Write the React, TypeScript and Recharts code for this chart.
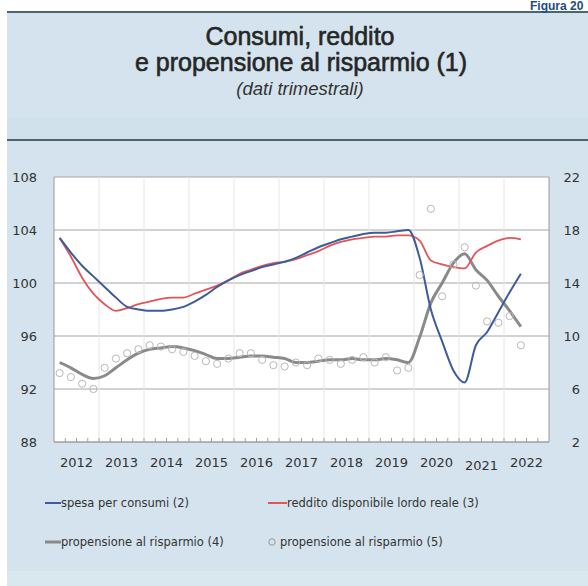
import React from 'react';
import { LineChart, Line, XAxis, YAxis, CartesianGrid, ReferenceLine } from 'recharts';

// quarterly data, 2012 T1 - 2022 T2
const years = [2012, 2013, 2014, 2015, 2016, 2017, 2018, 2019, 2020, 2021, 2022];

// spesa per consumi (index, left axis)
const spesa = [
  103.4, 102.3, 101.3, 100.5, 99.7, 98.9, 98.2, 98.0, 97.9, 97.9, 98.0, 98.2,
  98.6, 99.1, 99.7, 100.2, 100.6, 100.9, 101.2, 101.4, 101.6, 101.9, 102.3, 102.7,
  103.0, 103.3, 103.5, 103.7, 103.8, 103.8, 103.9, 104.0, 101.9, 98.0, 95.6, 93.4,
  92.5, 95.3, 96.3, 97.8, 99.3, 100.7,
];

// reddito disponibile lordo reale (index, left axis)
const reddito = [
  103.4, 102.0, 100.4, 99.2, 98.4, 97.9, 98.1, 98.4, 98.6, 98.8, 98.9, 98.9,
  99.2, 99.5, 99.8, 100.2, 100.7, 101.0, 101.3, 101.5, 101.6, 101.8, 102.1, 102.4,
  102.8, 103.1, 103.3, 103.4, 103.5, 103.5, 103.6, 103.6, 103.2, 101.7, 101.4, 101.2,
  101.1, 102.3, 102.8, 103.2, 103.4, 103.3,
];

// propensione al risparmio, media mobile (right axis)
const propensione = [
  8.0, 7.6, 7.1, 6.8, 7.0, 7.6, 8.2, 8.7, 9.0, 9.1, 9.2, 9.1,
  8.9, 8.6, 8.3, 8.3, 8.4, 8.5, 8.5, 8.4, 8.3, 8.0, 8.0, 8.1,
  8.2, 8.2, 8.3, 8.2, 8.2, 8.3, 8.2, 8.0, 9.9, 12.5, 14.0, 15.5,
  16.2, 15.0, 14.2, 13.0, 11.9, 10.7,
];

// propensione al risparmio, dato trimestrale (right axis)
const propensioneTrim = [
  7.2, 6.9, 6.4, 6.0, 7.6, 8.3, 8.7, 9.0, 9.3, 9.2, 9.0, 8.8,
  8.5, 8.1, 7.9, 8.3, 8.7, 8.7, 8.2, 7.8, 7.7, 8.0, 7.8, 8.3,
  8.2, 7.9, 8.2, 8.4, 8.0, 8.4, 7.4, 7.6, 14.6, 19.6, 13.0, 15.4,
  16.7, 13.8, 11.1, 11.0, 11.5, 9.3,
];

const leftTicks = [88, 92, 96, 100, 104, 108];
const rightTicks = [2, 6, 10, 14, 18, 22];

const data = spesa.map((v, i) => ({
  x: years[Math.floor(i / 4)] + ((i % 4) + 0.5) / 4,
  spesa: v,
  reddito: reddito[i],
  prop: propensione[i],
  propTrim: propensioneTrim[i],
}));

const quarterTicks = years.flatMap((y) => [y + 0.25, y + 0.5, y + 0.75, y + 1]).slice(0, -1);

const FONT = 'DejaVu Sans, sans-serif';
const TITLE_FONT = 'Liberation Sans, Arial, sans-serif';

const XTick = (props: any) => {
  const { x, y, payload } = props;
  const v = payload.value;
  const year = Math.floor(v);
  const isMid = Math.abs(v - year - 0.5) < 1e-6;
  return (
    <g>
      <line x1={x} x2={x} y1={y} y2={y - 4} stroke="#a0a0a0" />
      {isMid && (
        <text x={x} y={y + 25 + (year === 2021 ? 3 : 0)} textAnchor="middle" fontSize={13} fontFamily={FONT} fill="#333">
          {year}
        </text>
      )}
    </g>
  );
};

const RightTick = (props: any) => {
  const { x, y, payload } = props;
  return (
    <text x={x} y={y} dy={4.5} textAnchor="end" fontSize={13} fontFamily={FONT} fill="#333">
      {payload.value}
    </text>
  );
};

const App: React.FC = () => {
  return (
    <div style={{ position: 'absolute', left: 0, top: 0, width: 588, height: 586, background: '#fff', overflow: 'hidden' }}>
      <svg width={588} height={586} style={{ position: 'absolute', left: 0, top: 0 }}>
        <rect x={7} y={12} width={581} height={574} fill="#d4e3ed" />
        <rect x={7} y={118} width={581} height={22} fill="#d1e1eb" />
        <rect x={7} y={571} width={581} height={15} fill="#d9e7ef" />
        <line x1={7} x2={588} y1={12} y2={12} stroke="#4a6470" strokeWidth={2} />
        <line x1={7} x2={588} y1={140} y2={140} stroke="#4a6470" strokeWidth={2} />
        <text x={530} y={10} fontSize={12} fontWeight="bold" fontFamily={TITLE_FONT} fill="#1d4b86">
          Figura 20
        </text>
        <g fontFamily={TITLE_FONT} fill="#262626" textAnchor="middle">
          <text x={300} y={45} fontSize={25} stroke="#262626" strokeWidth={0.6}>Consumi, reddito</text>
          <text x={301} y={71} fontSize={25} stroke="#262626" strokeWidth={0.6}>e propensione al risparmio (1)</text>
          <text x={300} y={95} fontSize={18.5} fontStyle="italic" fill="#333">(dati trimestrali)</text>
        </g>
        <g fontFamily={FONT} fontSize={11.5} fill="#333">
          <line x1={45} x2={61} y1={503} y2={503} stroke="#3d5c99" strokeWidth={2} />
          <text x={61} y={507}>spesa per consumi (2)</text>
          <line x1={268} x2={287} y1={503} y2={503} stroke="#e2545a" strokeWidth={2} />
          <text x={287} y={507}>reddito disponibile lordo reale (3)</text>
          <line x1={45} x2={61} y1={542} y2={542} stroke="#8a8a8a" strokeWidth={3} />
          <text x={61} y={546}>propensione al risparmio (4)</text>
          <circle cx={272} cy={542} r={3.2} fill="none" stroke="#999" />
          <text x={280} y={546}>propensione al risparmio (5)</text>
        </g>
      </svg>
      <div style={{ position: 'absolute', left: 0, top: 0 }}>
        <LineChart width={588} height={586} data={data} margin={{ top: 177, right: 9, bottom: 114, left: 14 }}>
          <CartesianGrid yAxisId="left" vertical={false} stroke="#a6a6a6" fill="#ffffff" fillOpacity={1} />
          <XAxis
            type="number"
            dataKey="x"
            domain={[2012, 2023]}
            ticks={quarterTicks}
            interval={0}
            tick={<XTick />}
            tickLine={false}
            tickSize={0}
            tickMargin={0}
            height={30}
            axisLine={{ stroke: '#9a9a9a' }}
          />
          <YAxis
            yAxisId="left"
            domain={[88, 108]}
            ticks={leftTicks}
            interval={0}
            width={40}
            tickLine={false}
            tickSize={0}
            tickMargin={17}
            axisLine={{ stroke: '#9a9a9a' }}
            tick={{ fontSize: 13, fontFamily: FONT, fill: '#333' }}
          />
          <YAxis
            yAxisId="right"
            orientation="right"
            domain={[2, 22]}
            ticks={rightTicks}
            interval={0}
            width={30}
            tickLine={false}
            tickSize={0}
            tickMargin={31}
            axisLine={{ stroke: '#9a9a9a' }}
            tick={<RightTick />}
          />
          {years.slice(1).map((y) => (
            <ReferenceLine key={y} x={y} yAxisId="left" stroke="#e6e6e6" />
          ))}
          <Line
            yAxisId="right"
            dataKey="propTrim"
            stroke="none"
            dot={{ r: 3.6, stroke: '#b8b8b8', strokeWidth: 1, fill: 'none' }}
            activeDot={false}
            isAnimationActive={false}
          />
          <Line yAxisId="right" type="monotone" dataKey="prop" stroke="#8a8a8a" strokeWidth={3} dot={false} isAnimationActive={false} />
          <Line yAxisId="left" type="monotone" dataKey="reddito" stroke="#e2545a" strokeWidth={1.8} dot={false} isAnimationActive={false} />
          <Line yAxisId="left" type="monotone" dataKey="spesa" stroke="#3d5c99" strokeWidth={2} dot={false} isAnimationActive={false} />
        </LineChart>
      </div>
    </div>
  );
};

export default App;
